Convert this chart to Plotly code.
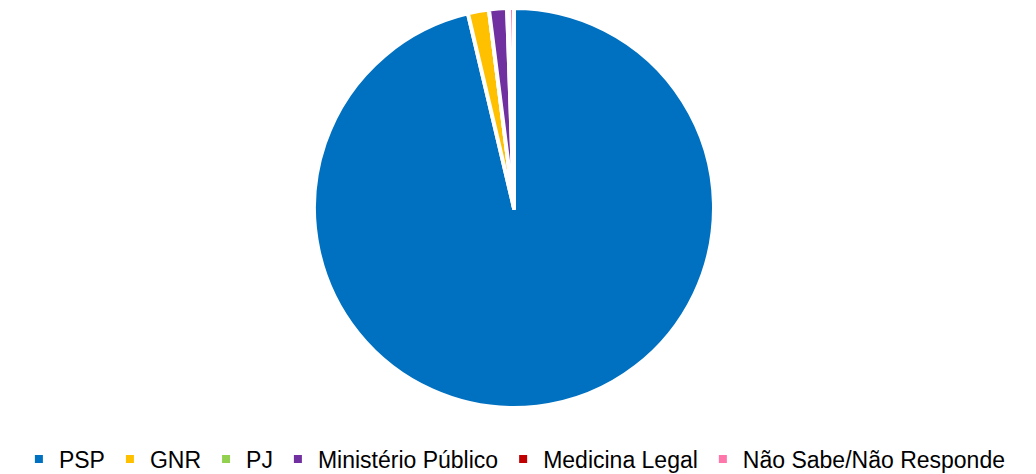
import plotly.graph_objects as go

labels = ["PSP", "GNR", "PJ", "Ministério Público", "Medicina Legal", "Não Sabe/Não Responde"]
values = [96.3, 1.7, 0.0, 1.45, 0.15, 0.4]
colors = ["#0070C0", "#FFC000", "#92D050", "#7030A0", "#C00000", "#FF77AA"]

W, H = 1036, 474
cx, cy, r = 514, 208, 200

fig = go.Figure(go.Pie(
    labels=labels,
    values=values,
    sort=False,
    direction="clockwise",
    rotation=0,
    textinfo="none",
    marker=dict(colors=colors, line=dict(color="white", width=4)),
    domain=dict(x=[(cx - r) / W, (cx + r) / W], y=[(H - cy - r) / H, (H - cy + r) / H]),
))

fig.update_layout(
    width=W, height=H,
    margin=dict(l=0, r=0, t=0, b=0, autoexpand=False),
    paper_bgcolor="white",
    plot_bgcolor="white",
    showlegend=True,
    legend=dict(
        orientation="h",
        x=0.497, xanchor="center",
        y=(H - 459) / H, yanchor="middle",
        font=dict(family="Liberation Sans, Arial, sans-serif", size=23, color="#000000"),
        itemclick=False, itemdoubleclick=False,
    ),
    font=dict(family="Liberation Sans, Arial, sans-serif"),
)

fig.write_html("out.html")
